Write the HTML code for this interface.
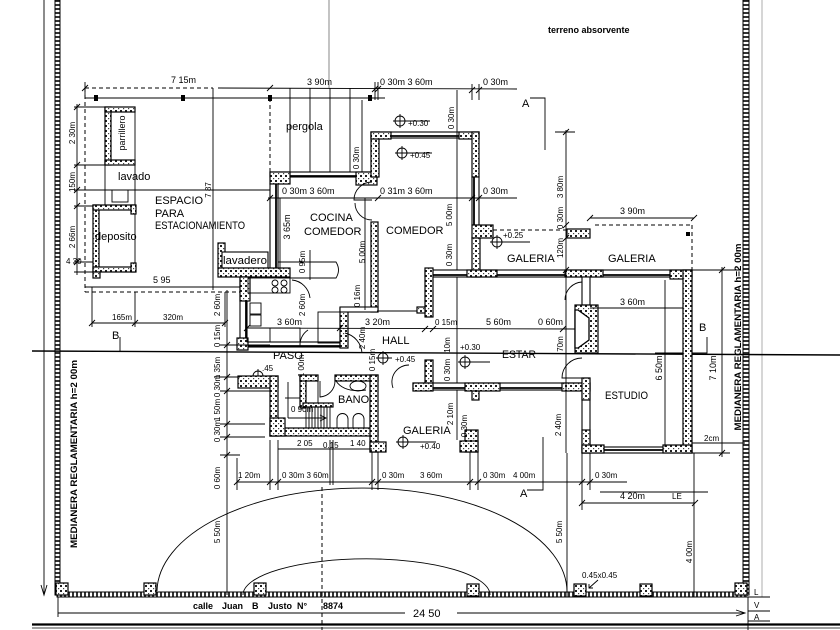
<!DOCTYPE html>
<html><head><meta charset="utf-8"><style>
html,body{margin:0;padding:0;background:#fff;}
svg{display:block}
text{font-family:"Liberation Sans",sans-serif;font-size:9px;fill:#000}
.s{font-size:8px}
.l{font-size:11px}
.b{font-weight:bold}
.t{stroke:#000;stroke-width:0.9;fill:none}
.k{stroke:#000;stroke-width:1.8;fill:none}
.d{stroke:#000;stroke-width:1;fill:none;stroke-dasharray:4 3}
.w{fill:url(#h);stroke:#000;stroke-width:1.2}
.o{fill:#fff;stroke:#000;stroke-width:1.1}
</style></head><body>
<svg width="840" height="630" viewBox="0 0 840 630" xmlns="http://www.w3.org/2000/svg">
<defs>
<pattern id="h" width="5" height="5" patternUnits="userSpaceOnUse">
<rect width="5" height="5" fill="#fff"/><rect x="0" y="0" width="2" height="2" fill="#222"/><rect x="3" y="3" width="1.2" height="1.2" fill="#444"/>
</pattern>
<pattern id="mv" width="6" height="4" patternUnits="userSpaceOnUse">
<rect width="6" height="4" fill="#fff"/><rect x="0" y="0" width="6" height="2" fill="#333"/>
</pattern>
<pattern id="mh" width="4" height="6" patternUnits="userSpaceOnUse">
<rect width="4" height="6" fill="#fff"/><rect x="0" y="0" width="2" height="6" fill="#333"/>
</pattern>
</defs>

<!-- boundary -->
<line x1="44" y1="0" x2="44" y2="594" class="t"/>
<path d="M41,585 L44,595 L47,585" class="t"/>
<rect x="55" y="0" width="5" height="595" fill="url(#mv)" stroke="#000" stroke-width="1"/>
<rect x="743" y="0" width="6" height="595" fill="url(#mv)" stroke="#000" stroke-width="1"/>
<rect x="57" y="592" width="690" height="5" fill="url(#mh)" stroke="#000" stroke-width="1"/>
<line x1="762" y1="0" x2="762" y2="597" stroke="#999" stroke-width="0.8"/>
<line x1="58" y1="597" x2="58" y2="617" class="t"/>
<line x1="58" y1="613" x2="405" y2="613" class="t"/>
<line x1="457" y1="613" x2="745" y2="613" class="t"/>
<path d="M736,610 L745,613 L736,616" class="t"/>
<text x="413" y="617" class="l">24 50</text>
<text x="193" y="609" class="b">calle</text>
<text x="222" y="609" class="b">Juan</text>
<text x="252" y="609" class="b">B</text>
<text x="268" y="609" class="b">Justo</text>
<text x="297" y="609" class="b">N°</text>
<text x="323" y="609" class="b">8874</text>
<line x1="32" y1="624.5" x2="840" y2="624.5" stroke="#000" stroke-width="2.2"/>
<line x1="32" y1="628" x2="840" y2="628" stroke="#000" stroke-width="0.8"/>
<line x1="748" y1="597" x2="748" y2="630" class="t"/>
<line x1="748" y1="597" x2="770" y2="597" class="t"/>
<line x1="748" y1="611" x2="770" y2="611" class="t"/>
<line x1="748" y1="621" x2="770" y2="621" class="t"/>
<text x="754" y="595" class="s">L</text>
<text x="754" y="608" class="s">V</text>
<text x="754" y="620" class="s">A</text>

<!-- section line B -->
<line x1="32" y1="351" x2="840" y2="355" stroke="#000" stroke-width="1.4"/>
<text x="112" y="339" class="l">B</text>
<line x1="120" y1="337" x2="120" y2="351" class="t"/>
<text x="699" y="331" class="l">B</text>
<path d="M655,353 L707,353 L707,337" class="t"/>

<!-- pillars front -->
<g class="w">
<rect x="56" y="583" width="12" height="12"/><rect x="144" y="583" width="12" height="12"/>
<rect x="254" y="583" width="12" height="12"/><rect x="467" y="584" width="12" height="12"/>
<rect x="574" y="584" width="12" height="12"/><rect x="640" y="584" width="12" height="12"/>
<rect x="735" y="583" width="12" height="12"/>
</g>

<!-- arcs -->
<path d="M157,591 A205,104 0 0 1 567,593" class="t" stroke-width="1"/>
<path d="M243,595 A123,36 0 0 1 490,595" class="t" stroke-width="1"/>
<line x1="322" y1="487" x2="322" y2="630" class="d" stroke-width="0.7"/>

<!-- top -->
<text x="548" y="33" class="b">terreno  absorvente</text>
<line x1="85" y1="88" x2="213" y2="88" class="d"/>
<line x1="218" y1="88" x2="517" y2="89" class="t"/>
<line x1="85" y1="98" x2="385" y2="98" class="t"/>
<rect x="94" y="95" width="4" height="6" fill="#000"/>
<rect x="181" y="95" width="4" height="6" fill="#000"/>
<rect x="268" y="95" width="4" height="6" fill="#000"/>
<rect x="368" y="95" width="4" height="6" fill="#000"/>
<g class="t">
<path d="M82,91 L88,85 M267,91 L273,85 M372,92 L378,86 M375,92 L381,86 M469,93 L475,87 M476,93 L482,87"/>
<path d="M85,82 L85,95 M375,82 L375,100 M378,82 L378,100 M472,84 L472,100 M479,84 L479,100"/>
</g>
<text x="171" y="83">7 15m</text>
<text x="307" y="85">3 90m</text>
<text x="380" y="85">0 30m  3 60m</text>
<text x="483" y="85">0 30m</text>
<line x1="85" y1="88" x2="85" y2="292" class="d"/>
<line x1="213" y1="88" x2="213" y2="290" class="t"/>
<text transform="rotate(-90,211,190)" x="211" y="190" text-anchor="middle" class="s">7 87</text>
<line x1="270" y1="98" x2="270" y2="172" class="d"/>
<g class="t">
<line x1="290" y1="88" x2="290" y2="172"/><line x1="310" y1="88" x2="310" y2="172"/>
<line x1="330" y1="88" x2="330" y2="172"/><line x1="350" y1="88" x2="350" y2="172"/>
<line x1="362" y1="100" x2="362" y2="172"/>
</g>
<line x1="329" y1="0" x2="329" y2="88" stroke="#555" stroke-width="0.7"/>
<text x="286" y="130" class="l">pergola</text>
<text transform="rotate(-90,359,158)" x="359" y="158" text-anchor="middle" class="s">0 30m</text>

<!-- left yard -->
<line x1="77" y1="104" x2="77" y2="275" class="t"/>
<g class="t">
<path d="M74,107 L105,107 M74,165 L105,165 M74,190 L85,190 M74,206 L93,206 M74,262 L93,262 M74,272 L93,272"/>
<path d="M74,110 L80,104 M74,168 L80,162 M74,193 L80,187 M74,209 L80,203 M74,265 L80,259"/>
</g>
<text transform="rotate(-90,75,133)" x="75" y="133" text-anchor="middle" class="s">2 30m</text>
<text transform="rotate(-90,75,182)" x="75" y="182" text-anchor="middle" class="s">150m</text>
<text transform="rotate(-90,75,237)" x="75" y="237" text-anchor="middle" class="s">2 66m</text>
<text x="66" y="264" class="s" font-size="6">4 30</text>
<rect x="105" y="107" width="30" height="58" class="t"/>
<rect x="105" y="107" width="6" height="58" class="w"/>
<rect x="105" y="107" width="30" height="5" class="w"/>
<rect x="105" y="160" width="30" height="5" class="w"/>
<text transform="rotate(-90,125,133)" x="125" y="133" text-anchor="middle">parrillero</text>
<line x1="105" y1="165" x2="105" y2="206" class="t"/>
<line x1="135" y1="165" x2="135" y2="206" class="t"/>
<rect x="112" y="190" width="16" height="12" class="t"/>
<text x="118" y="180" class="l">lavado</text>
<line x1="77" y1="190" x2="270" y2="190" class="t"/>
<rect x="93" y="205" width="42" height="67" class="t"/>
<rect x="93" y="205" width="6" height="67" class="w"/>
<rect x="93" y="205" width="42" height="5" class="w"/>
<rect x="93" y="267" width="42" height="5" class="w"/>
<rect x="131" y="205" width="5" height="9" class="w"/>
<rect x="131" y="263" width="5" height="9" class="w"/>
<rect x="93" y="272" width="7" height="6" class="w"/>
<text x="95" y="240" class="l">deposito</text>
<text x="155" y="204" class="l">ESPACIO</text>
<text x="155" y="217" class="l">PARA</text>
<text x="155" y="229" class="l" textLength="90" lengthAdjust="spacingAndGlyphs">ESTACIONAMIENTO</text>
<line x1="85" y1="287" x2="240" y2="287" class="t"/>
<line x1="85" y1="292" x2="240" y2="292" class="d"/>
<text x="153" y="283">5 95</text>
<g class="t">
<line x1="92" y1="287" x2="92" y2="327"/><line x1="135" y1="292" x2="135" y2="327"/>
<line x1="225" y1="292" x2="225" y2="327"/>
<line x1="92" y1="323" x2="225" y2="323"/>
<path d="M89,326 L95,320 M132,326 L138,320 M222,326 L228,320"/>
</g>
<text x="112" y="320" class="s">165m</text>
<text x="163" y="320" class="s">320m</text>

<text transform="rotate(-90,77,454)" x="77" y="454" text-anchor="middle" class="b" font-size="10" textLength="188" lengthAdjust="spacingAndGlyphs">MEDIANERA  REGLAMENTARIA  h=2 00m</text>
<text transform="rotate(-90,741,337)" x="741" y="337" text-anchor="middle" class="b" font-size="10" textLength="187" lengthAdjust="spacingAndGlyphs">MEDIANERA  REGLAMENTARIA  h=2 00m</text>

<!-- kitchen block -->
<rect x="270" y="172" width="101" height="5" class="o"/>
<line x1="290" y1="176" x2="358" y2="176" class="k"/>
<rect x="270" y="172" width="20" height="12" class="w"/>
<rect x="356" y="172" width="21" height="13" class="w"/>
<rect x="270" y="184" width="8" height="86" class="o"/>
<line x1="276" y1="184" x2="276" y2="270" class="k"/>
<rect x="218" y="243" width="7" height="25" class="w"/>
<rect x="222" y="252" width="46" height="16" class="o"/>
<text x="223" y="264" class="l" textLength="44" lengthAdjust="spacingAndGlyphs">lavadero</text>
<rect x="218" y="268" width="72" height="9" class="w"/>
<rect x="240" y="277" width="7" height="73" class="o"/>
<line x1="246" y1="277" x2="246" y2="350" class="k"/>
<rect x="240" y="277" width="10" height="24" class="w"/>
<rect x="240" y="342" width="100" height="5" class="o"/>
<line x1="247" y1="346" x2="340" y2="346" class="k"/>
<rect x="237" y="338" width="11" height="12" class="w"/>
<rect x="248" y="278" width="42" height="15" class="t"/>
<g class="t"><circle cx="275" cy="283" r="3"/><circle cx="284" cy="283" r="3"/><circle cx="275" cy="290" r="3"/><circle cx="284" cy="290" r="3"/></g>
<path d="M278,262 L336,262 Q341,270 336,278 L278,278" class="t"/>
<rect x="250" y="303" width="11" height="11" class="t"/>
<rect x="250" y="315" width="11" height="11" class="t"/>
<rect x="247" y="328" width="53" height="14" class="t"/>
<line x1="270" y1="328" x2="270" y2="342" class="t"/>
<path d="M292,280 A20,20 0 0 1 310,298" class="t"/>
<rect x="371" y="132" width="8" height="45" class="w"/>
<rect x="371" y="222" width="7" height="90" class="w"/>
<path d="M372,182 A18,18 0 0 0 354,200 L372,200 M372,220 A17,17 0 0 1 355,203" class="t" stroke-width="1"/>
<rect x="340" y="308" width="8" height="40" class="w"/>
<rect x="340" y="307" width="38" height="5" class="o"/>
<rect x="318" y="312" width="22" height="31" class="t"/>
<line x1="377" y1="311" x2="425" y2="311" class="t"/>
<text x="310" y="221" class="l">COCINA</text>
<text x="304" y="235" class="l">COMEDOR</text>

<!-- comedor -->
<rect x="371" y="132" width="108" height="6" class="o"/>
<line x1="390" y1="136" x2="460" y2="136" class="k"/>
<rect x="371" y="132" width="20" height="7" class="w"/>
<rect x="459" y="132" width="20" height="7" class="w"/>
<rect x="472" y="132" width="7" height="45" class="w"/>
<rect x="472" y="177" width="7" height="48" class="o"/>
<line x1="474" y1="177" x2="474" y2="225" class="k"/>
<rect x="472" y="225" width="21" height="13" class="w"/>
<rect x="472" y="238" width="8" height="39" class="w"/>
<text x="386" y="234" class="l">COMEDOR</text>
<g class="t"><circle cx="400" cy="121" r="5"/><path d="M393,121 L430,121 M400,114 L400,128"/>
<circle cx="402" cy="153" r="5"/><path d="M395,153 L432,153 M402,146 L402,160"/></g>
<text x="408" y="126" class="s">+0.30</text>
<text x="410" y="158" class="s">+0.45</text>
<line x1="457" y1="90" x2="457" y2="440" class="t"/>
<text transform="rotate(-90,454,118)" x="454" y="118" text-anchor="middle" class="s">0 30m</text>
<text transform="rotate(-90,452,215)" x="452" y="215" text-anchor="middle" class="s">5 00m</text>
<text transform="rotate(-90,452,255)" x="452" y="255" text-anchor="middle" class="s">0 30m</text>

<!-- dims kitchen -->
<line x1="268" y1="198" x2="517" y2="198" class="t"/>
<path d="M267,201 L273,195 M375,201 L381,195 M469,201 L475,195 M476,201 L482,195" class="t"/>
<text x="282" y="194">0 30m  3 60m</text>
<text x="380" y="194">0 31m  3 60m</text>
<text x="483" y="194">0 30m</text>
<line x1="280" y1="198" x2="280" y2="270" class="t"/>
<text transform="rotate(-90,290,227)" x="290" y="227" text-anchor="middle">3 65m</text>
<line x1="310" y1="250" x2="310" y2="280" class="t"/>
<text transform="rotate(-90,305,262)" x="305" y="262" text-anchor="middle" class="s">0 95m</text>
<line x1="365" y1="198" x2="365" y2="310" class="t"/>
<text transform="rotate(-90,365,252)" x="365" y="252" text-anchor="middle" class="s">5 00m</text>
<text transform="rotate(-90,360,296)" x="360" y="296" text-anchor="middle" class="s">0 16m</text>
<text transform="rotate(-90,305,305)" x="305" y="305" text-anchor="middle" class="s">2 60m</text>
<line x1="247" y1="328" x2="578" y2="329" class="t"/>
<path d="M244,331 L250,325 M337,331 L343,325 M422,332 L428,326 M430,332 L436,326 M560,332 L566,326" class="t"/>
<text x="277" y="325">3 60m</text>
<text x="365" y="325">3 20m</text>
<text x="435" y="325" class="s">0 15m</text>
<text x="486" y="325">5 60m</text>
<text x="538" y="325">0 60m</text>

<!-- hall/paso/bano -->
<text x="382" y="344" class="l">HALL</text>
<text transform="rotate(-90,365,338)" x="365" y="338" text-anchor="middle" class="s">2 40m</text>
<text transform="rotate(-90,375,360)" x="375" y="360" text-anchor="middle" class="s">0 15m</text>
<g class="t"><circle cx="383" cy="358" r="5"/><path d="M376,358 L392,358 M383,351 L383,365"/></g>
<text x="395" y="362" class="s">+0.45</text>
<path d="M345,333 A22,22 0 0 1 362,353" class="t"/>
<path d="M393,388 A17,17 0 0 1 409,365" class="t"/>
<text x="273" y="359" class="l">PASO</text>
<text transform="rotate(-90,304,366)" x="304" y="366" text-anchor="middle" class="s">1 00m</text>
<g class="t"><circle cx="258" cy="376" r="5"/><path d="M251,376 L275,376 M258,369 L258,383"/></g>
<text x="262" y="371" class="s">.45</text>
<path d="M308,330 A18,18 0 0 0 300,346" class="t"/>
<rect x="238" y="376" width="40" height="12" class="w"/>
<rect x="270" y="376" width="8" height="60" class="w"/>
<rect x="270" y="428" width="108" height="8" class="w"/>
<rect x="270" y="418" width="15" height="18" class="w"/>
<rect x="300" y="376" width="6" height="32" class="w"/>
<rect x="300" y="375" width="18" height="6" class="w"/>
<rect x="335" y="375" width="43" height="6" class="w"/>
<rect x="370" y="375" width="8" height="77" class="w"/>
<rect x="370" y="442" width="16" height="10" class="w"/>
<rect x="303" y="403" width="30" height="4" class="w"/>
<line x1="318" y1="381" x2="318" y2="403" class="t"/>
<g class="t">
<path d="M306,407 V428 M309,407 V428 M312,407 V428 M315,407 V428 M318,407 V428 M321,407 V428 M324,407 V428 M327,407 V428 M330,407 V428"/>
<line x1="288" y1="382" x2="288" y2="418"/><line x1="288" y1="418" x2="326" y2="418"/>
<path d="M320,415 L326,418 L320,421"/>
<line x1="285" y1="398" x2="300" y2="398"/>
</g>
<path d="M320,381 L320,397 A16,16 0 0 0 335,381" class="t"/>
<ellipse cx="358" cy="386" rx="8" ry="5" class="t"/>
<path d="M336,381 Q344,393 366,390" class="t"/>
<path d="M337,428 L337,419 A5.5,5.5 0 0 1 348,419 L348,428 M353,428 L353,419 A5.5,5.5 0 0 1 364,419 L364,428" class="t"/>
<text x="338" y="403" class="l">BANO</text>
<text x="291" y="412" class="s" font-size="6">0 90m</text>

<!-- estar -->
<rect x="425" y="270" width="267" height="7" class="o"/>
<line x1="433" y1="275" x2="683" y2="275" class="k"/>
<rect x="425" y="268" width="8" height="49" class="w"/>
<rect x="417" y="307" width="8" height="6" class="w"/>
<rect x="467" y="270" width="30" height="7" class="w"/>
<rect x="565" y="270" width="38" height="7" class="w"/>
<rect x="670" y="270" width="22" height="9" class="w"/>
<rect x="425" y="360" width="8" height="30" class="w"/>
<rect x="413" y="383" width="177" height="7" class="o"/>
<line x1="433" y1="388" x2="582" y2="388" class="k"/>
<rect x="413" y="383" width="20" height="8" class="w"/>
<rect x="465" y="383" width="35" height="8" class="w"/>
<rect x="472" y="391" width="7" height="9" class="w"/>
<rect x="562" y="383" width="28" height="8" class="w"/>
<text x="502" y="358" class="l" font-size="12" textLength="34" lengthAdjust="spacingAndGlyphs">ESTAR</text>
<g class="t"><circle cx="465" cy="362" r="5"/><path d="M458,362 L490,362 M465,355 L465,369"/></g>
<text x="460" y="350" class="s">+0.30</text>
<text transform="rotate(-90,450,345)" x="450" y="345" text-anchor="middle" class="s">10m</text>
<text transform="rotate(-90,450,370)" x="450" y="370" text-anchor="middle" class="s">0 30m</text>
<text transform="rotate(-90,563,344)" x="563" y="344" text-anchor="middle" class="s">70m</text>

<!-- estudio -->
<rect x="582" y="277" width="8" height="28" class="o"/>
<rect x="575" y="305" width="23" height="48" class="w"/>
<polygon points="578,310 589,318 589,340 578,348 575,348 575,310" fill="#fff" stroke="#000" stroke-width="1.3"/>
<rect x="582" y="378" width="8" height="75" class="o"/>
<rect x="582" y="378" width="8" height="22" class="w"/>
<rect x="582" y="430" width="8" height="23" class="w"/>
<rect x="683" y="270" width="9" height="183" class="w"/>
<rect x="582" y="447" width="110" height="6" class="o"/>
<line x1="590" y1="450" x2="683" y2="450" class="k"/>
<rect x="582" y="445" width="22" height="8" class="w"/>
<rect x="663" y="445" width="29" height="8" class="w"/>
<path d="M565,300 A18,18 0 0 1 582,282" class="t"/>
<path d="M582,358 A20,20 0 0 0 562,378 L582,378" class="t"/>
<text x="605" y="399" class="l" font-size="12" textLength="43" lengthAdjust="spacingAndGlyphs">ESTUDIO</text>
<line x1="590" y1="308" x2="683" y2="308" class="t"/>
<text x="620" y="305">3 60m</text>
<line x1="665" y1="280" x2="665" y2="447" class="t"/>
<text transform="rotate(-90,662,368)" x="662" y="368" text-anchor="middle">6 50m</text>
<line x1="722" y1="267" x2="722" y2="457" class="t"/>
<path d="M692,270 L740,270 M692,443 L745,443 M692,453 L730,453 M719,273 L725,267 M719,456 L725,450" class="t"/>
<text transform="rotate(-90,716,368)" x="716" y="368" text-anchor="middle">7 10m</text>
<text x="704" y="441" class="s" font-size="6">2cm</text>

<!-- galeria top -->
<line x1="493" y1="230" x2="567" y2="230" class="d"/>
<rect x="567" y="229" width="23" height="9" class="w"/>
<line x1="595" y1="225" x2="692" y2="225" class="d"/>
<line x1="692" y1="225" x2="692" y2="270" class="d"/>
<rect x="686" y="232" width="4" height="4" fill="#000"/>
<line x1="590" y1="218" x2="694" y2="218" class="t"/>
<path d="M587,221 L593,215 M691,221 L697,215" class="t"/>
<text x="620" y="214">3 90m</text>
<text x="507" y="262" class="l">GALERIA</text>
<text x="608" y="262" class="l">GALERIA</text>
<g class="t"><circle cx="497" cy="242" r="5"/><path d="M490,242 L530,242 M497,235 L497,249"/></g>
<text x="503" y="238" class="s">+0.25</text>
<line x1="566" y1="130" x2="566" y2="453" class="t"/>
<path d="M555,132 L575,132 M563,135 L569,129 M563,228 L569,222 M563,241 L569,235 M563,273 L569,267" class="t"/>
<text transform="rotate(-90,563,187)" x="563" y="187" text-anchor="middle" class="s">3 80m</text>
<text transform="rotate(-90,563,218)" x="563" y="218" text-anchor="middle" class="s">0 30m</text>
<text transform="rotate(-90,563,248)" x="563" y="248" text-anchor="middle" class="s">120m</text>
<text x="522" y="107" class="l">A</text>
<path d="M530,98 L545,98 L545,150" class="t"/>

<!-- galeria bottom -->
<text x="403" y="434" class="l">GALERIA</text>
<g class="t"><circle cx="403" cy="442" r="5"/><path d="M396,442 L436,442 M403,435 L403,449"/></g>
<text x="420" y="449" class="s">+0.40</text>
<rect x="465" y="430" width="13" height="22" class="w"/>
<rect x="460" y="441" width="18" height="11" class="w"/>
<text transform="rotate(-90,453,414)" x="453" y="414" text-anchor="middle" class="s">2 10m</text>
<text transform="rotate(-90,467,426)" x="467" y="426" text-anchor="middle" class="s">0 30m</text>
<text transform="rotate(-90,561,425)" x="561" y="425" text-anchor="middle" class="s">2 40m</text>

<!-- left dimension column -->
<line x1="227" y1="290" x2="227" y2="595" class="t"/>
<g class="t">
<path d="M220,345 L270,345 M220,377 L240,377 M220,391 L270,391 M220,424 L265,424 M220,437 L265,437 M220,455 L240,455"/>
<path d="M224,348 L230,342 M224,380 L230,374 M224,394 L230,388 M224,427 L230,421 M224,440 L230,434 M224,458 L230,452"/>
</g>
<text transform="rotate(-90,220,305)" x="220" y="305" text-anchor="middle" class="s">2 60m</text>
<text transform="rotate(-90,220,336)" x="220" y="336" text-anchor="middle" class="s">0 15m</text>
<text transform="rotate(-90,220,368)" x="220" y="368" text-anchor="middle" class="s">1 35m</text>
<text transform="rotate(-90,220,386)" x="220" y="386" text-anchor="middle" class="s">0 30m</text>
<text transform="rotate(-90,220,410)" x="220" y="410" text-anchor="middle" class="s">1 50m</text>
<text transform="rotate(-90,220,431)" x="220" y="431" text-anchor="middle" class="s">0 30m</text>
<text transform="rotate(-90,220,478)" x="220" y="478" text-anchor="middle" class="s">0 60m</text>
<text transform="rotate(-90,220,532)" x="220" y="532" text-anchor="middle" class="s">5 50m</text>

<!-- bottom dims -->
<line x1="278" y1="449" x2="372" y2="449" class="t"/>
<text x="297" y="446" class="s">2 05</text>
<text x="323" y="448" class="s">0.15</text>
<text x="350" y="446" class="s">1 40</text>
<line x1="237" y1="482" x2="627" y2="482" class="t"/>
<g class="t">
<path d="M237,458 V490 M270,440 V490 M278,440 V490 M330,440 V485 M333,440 V485 M372,452 V490 M378,452 V490 M470,452 V490 M478,452 V490 M582,453 V510 M590,453 V490"/>
<path d="M234,485 L240,479 M267,485 L273,479 M275,485 L281,479 M369,485 L375,479 M375,485 L381,479 M467,485 L473,479 M475,485 L481,479 M579,485 L585,479 M587,485 L593,479"/>
</g>
<text x="238" y="478" class="s">1 20m</text>
<text x="282" y="478" class="s">0 30m  3 60m</text>
<text x="382" y="478" class="s">0 30m</text>
<text x="420" y="478" class="s">3 60m</text>
<text x="483" y="478" class="s">0 30m</text>
<text x="513" y="478" class="s">4 00m</text>
<text x="595" y="478" class="s">0 30m</text>
<text x="520" y="497" class="l">A</text>
<path d="M527,490 L543,490 L543,437" class="t"/>
<line x1="567" y1="453" x2="567" y2="597" class="t"/>
<text transform="rotate(-90,562,532)" x="562" y="532" text-anchor="middle" class="s">5 50m</text>
<line x1="600" y1="492" x2="708" y2="492" class="t"/>
<line x1="582" y1="503" x2="695" y2="503" class="t"/>
<path d="M579,506 L585,500 M692,506 L698,500" class="t"/>
<text x="620" y="499">4 20m</text>
<text x="672" y="499" class="s">LE</text>
<line x1="694" y1="453" x2="694" y2="597" class="t"/>
<text transform="rotate(-90,692,552)" x="692" y="552" text-anchor="middle" class="s">4 00m</text>
<text x="582" y="578" class="s" font-size="7">0.45x0.45</text>
<path d="M598,580 L589,588 M589,584 L589,588 L593,588" class="t"/>
</svg>
</body></html>
